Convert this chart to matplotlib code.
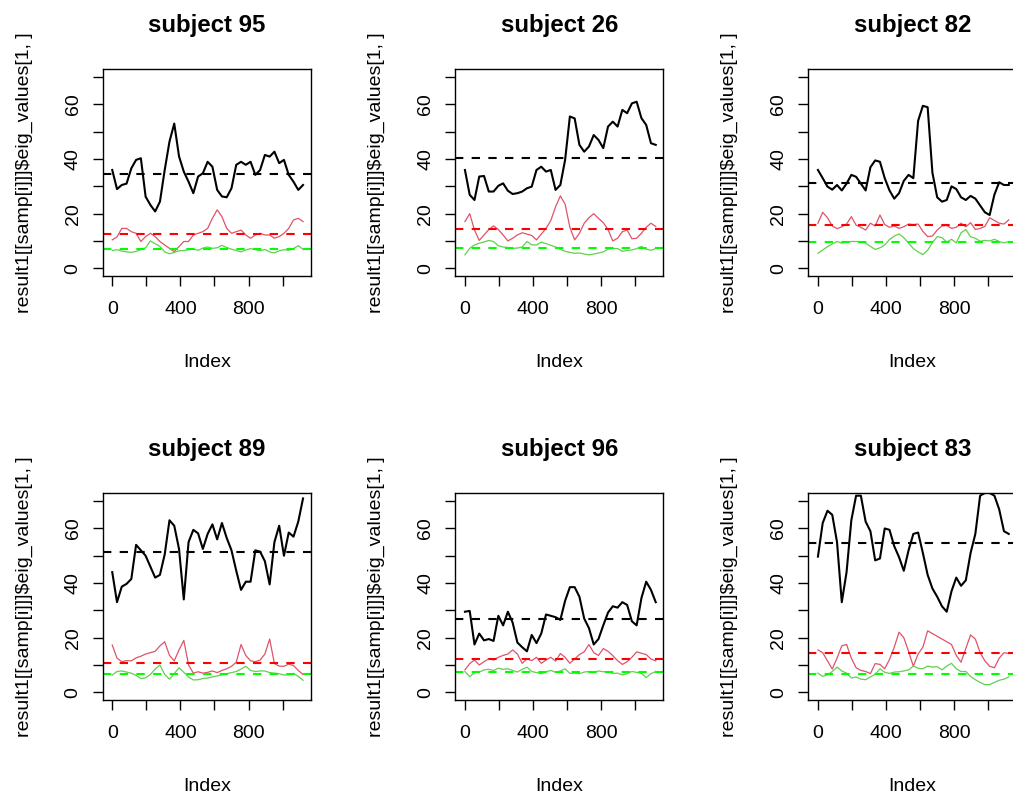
import numpy as np
import matplotlib
matplotlib.use("Agg")
import matplotlib.pyplot as plt

plt.rcParams["font.family"] = ["Liberation Sans", "DejaVu Sans"]

index = np.arange(0, 1121, 28)

subjects = ["subject 95", "subject 26", "subject 82",
            "subject 89", "subject 96", "subject 83"]

s95_black = [36, 29, 30.5, 31, 36.6, 39.7, 40.3, 26.2, 23.2, 20.8, 24.4, 36, 46.4, 53,
             41, 35.4, 31.7, 27.5, 33.6, 34.8, 39, 37.2, 28.7, 26.3, 26, 29.3, 37.9,
             39, 37.9, 39, 34.2, 36, 41.5, 40.9, 42.7, 38.5, 39.7, 34.2, 31.7, 28.7, 30.5]
s95_red = [10.4, 11.5, 14.6, 14.6, 13.4, 12.8, 9.8, 11.6, 12.8, 11.6, 9.8, 8.5, 7.3, 6.1,
           7.9, 9.8, 9.8, 12.2, 12.8, 13.4, 14.6, 18.3, 21.4, 18.9, 14.6, 12.8, 13.4, 14,
           12.2, 11, 12.2, 12.8, 12.2, 12.2, 11, 11.6, 12.8, 14.6, 17.7, 18.3, 17.1]
s95_green = [6.5, 6.8, 6.3, 6.0, 5.8, 6.2, 6.8, 7.5, 10.0, 9.0, 8.0, 6.0, 5.3, 5.8, 6.4,
             6.5, 6.8, 7.0, 6.6, 7.4, 7.8, 7.3, 7.5, 8.4, 7.6, 7.0, 6.5, 6.0, 6.7, 7.2,
             6.8, 6.4, 6.9, 6.0, 5.6, 6.4, 6.8, 6.6, 7.2, 8.3, 6.9]

s26_black = [36, 26.9, 25, 33.6, 33.8, 28.1, 28.1, 30.2, 31.1, 28.4, 27.2, 27.5, 28.1,
             29.3, 29.9, 36, 37.2, 35.4, 36, 28.7, 30.5, 39.7, 55.6, 54.9, 45.2, 42.7,
             44.6, 48.8, 47, 44, 51.9, 53.7, 51.9, 58, 56.8, 60.4, 61, 55, 52.5, 45.8, 45.2]
s26_red = [17.1, 20, 14, 10.2, 12.2, 14.2, 15.5, 14.2, 12.2, 10, 11, 12.2, 13, 12.5, 12,
           10.4, 12.5, 14.6, 17.5, 22.5, 26.5, 23.5, 15, 10.4, 12.8, 16.5, 18.5, 20,
           18.3, 16.7, 14.2, 10, 11, 13.4, 14, 10.8, 11, 12.8, 15, 16.5, 15.3]
s26_green = [4.9, 7.3, 8.5, 9.2, 9.6, 10.2, 9.8, 8.2, 7.8, 7.6, 7.3, 7.4, 7.8, 9.8, 8.6,
             8.5, 9.6, 9.0, 8.4, 7.8, 7.0, 6.2, 5.8, 5.5, 5.6, 5.2, 4.9, 5.2, 5.6, 6.0,
             7.0, 7.3, 7.2, 6.2, 6.5, 6.7, 7.2, 8.0, 7.0, 6.6, 7.2]

s82_black = [36, 33, 29.9, 28.8, 30.5, 28.5, 31, 34.2, 33.5, 31, 28.5, 37, 39.5, 39, 33,
             28.5, 25.5, 27.5, 32, 34.2, 33, 54, 59.5, 59, 35, 26, 24.4, 25, 30, 29, 26,
             25, 26.5, 25.5, 23, 20.5, 19.5, 27, 31.5, 30.5, 30.5]
s82_red = [16.5, 20.5, 18.5, 15.5, 14.5, 15.2, 16.2, 18.9, 15.8, 15, 14, 16.5, 15.5, 19.5,
           16, 15, 15.5, 14.6, 15.2, 16.2, 16, 16.2, 13.5, 11.6, 11.8, 14, 15.5, 15.7,
           14.6, 15, 16.5, 15.2, 16.7, 14.2, 14.6, 15.3, 18.5, 17.5, 16.5, 16.2, 17.7]
s82_green = [5.5, 6.7, 7.9, 8.9, 9.8, 9.2, 9.6, 9.8, 9.8, 9.7, 9.2, 8.0, 6.9, 7.5, 8.5,
             10.5, 11.8, 12.6, 11.2, 9.2, 7.2, 6.0, 5.0, 6.6, 9.4, 11.6, 11.2, 9.6, 10.6,
             9.3, 13.0, 14.2, 11.5, 11.0, 9.9, 10.2, 10.0, 10.6, 9.8, 9.3, 9.8]

s89_black = [44, 33, 38.7, 39.7, 41.5, 54, 52, 50, 46, 42, 43, 50.5, 63, 61, 52.5, 34, 55,
             59.5, 58.2, 52.5, 58, 61.5, 56, 62, 56.5, 52, 44.5, 37.5, 40.5, 40.5, 52,
             51.5, 48, 39.5, 55, 61, 50, 58.5, 57, 62.5, 71]
s89_red = [17.3, 12.5, 11.2, 11.6, 11.5, 12.6, 13.2, 14.0, 14.5, 15.0, 17, 18.5, 13.5,
           11.5, 15.5, 19.0, 10, 7.0, 7.5, 7.0, 7.3, 7.8, 7.2, 8.0, 8.6, 9.5, 11.0, 17.5,
           13.5, 11.5, 11.2, 11.8, 14.0, 19.5, 10.5, 9.6, 9.5, 10.3, 9.8, 8.0, 6.5]
s89_green = [6.3, 7.6, 7.8, 7.4, 7.0, 6.2, 5.0, 5.3, 6.5, 8.5, 10.0, 6.5, 4.8, 6.8, 9.0,
             7.3, 5.6, 4.5, 4.6, 5.0, 5.2, 5.6, 6.0, 6.4, 6.8, 7.2, 7.6, 8.5, 9.5, 8.0,
             7.6, 7.8, 7.8, 7.2, 7.0, 6.8, 6.3, 6.4, 6.9, 5.8, 4.4]

s96_black = [29.5, 29.8, 17.5, 21.5, 19.0, 19.5, 18.8, 28, 24.5, 29.5, 25.5, 18.2, 16.5,
             15.0, 21.0, 18.0, 21.5, 28.5, 28, 27.5, 26.5, 33.5, 38.5, 38.5, 35.0, 27.0,
             23.5, 17.5, 19.5, 24.5, 29.2, 31.5, 31.0, 33.0, 32, 26.0, 24.5, 34.5, 40.5,
             37.5, 33.0]
s96_red = [8.2, 10.5, 11.8, 10.0, 11.2, 12.3, 11.8, 12.8, 13.5, 14.0, 15.5, 14.0, 10.6,
           12.2, 11.6, 12.8, 10.6, 11.8, 12.8, 11.4, 14.2, 12.8, 10.6, 12.2, 13.8, 14.8,
           17.5, 14.5, 13.5, 16.0, 15.0, 13.4, 11.6, 10.2, 11.2, 12.8, 14.8, 14.3, 13.8,
           12.2, 11.5]
s96_green = [7.6, 5.7, 7.2, 7.4, 8.2, 8.4, 8.0, 8.8, 8.4, 8.6, 8.0, 7.4, 8.4, 9.2, 7.6,
             7.2, 6.8, 7.5, 8.0, 7.3, 7.8, 8.6, 6.9, 7.0, 6.8, 7.4, 7.6, 7.3, 7.8, 7.5,
             7.6, 6.9, 7.0, 6.4, 6.8, 7.6, 7.3, 6.9, 5.4, 6.8, 7.6]

s83_black = [49.7, 62, 66.5, 65, 55, 33, 44, 63, 72, 72, 62.5, 59, 48.3, 49, 60, 59.5,
             53.5, 49.5, 44.5, 52, 58, 58.5, 51, 43, 38, 35, 31.5, 29.5, 37, 42, 39, 41,
             51, 58, 72, 73, 73, 72, 67, 59, 58]
s83_red = [15.5, 14.5, 11.5, 8.5, 12.5, 17.0, 17.5, 12.5, 9.0, 8.0, 7.6, 6.8, 10.5, 10.2,
           8.6, 12.0, 16.5, 22.0, 20.0, 15.0, 9.5, 14.0, 16.5, 22.5, 21.5, 20.5, 19.5,
           18.5, 17.5, 13.5, 11.0, 16.0, 21.0, 19.5, 14.5, 11.5, 9.5, 9.0, 12.5, 14.5, 14.2]
s83_green = [7.0, 5.8, 6.4, 7.6, 9.2, 7.8, 7.0, 5.2, 5.6, 4.8, 4.6, 5.6, 6.6, 8.6, 7.3,
             6.9, 7.4, 7.5, 7.8, 8.2, 9.6, 8.8, 8.6, 9.6, 9.2, 9.4, 8.2, 9.6, 10.6, 8.6,
             7.6, 7.6, 5.8, 4.6, 3.6, 2.8, 2.8, 3.6, 4.4, 4.8, 5.6]

# dashed reference lines (means)
black_means = [34.4, 40.5, 31.4, 51.5, 26.7, 54.8]
red_means = [12.6, 14.4, 15.9, 10.9, 12.1, 14.3]
green_means = [7.0, 7.6, 9.6, 6.7, 7.3, 6.7]

blacks = [s95_black, s26_black, s82_black, s89_black, s96_black, s83_black]
reds = [s95_red, s26_red, s82_red, s89_red, s96_red, s83_red]
greens = [s95_green, s26_green, s82_green, s89_green, s96_green, s83_green]

W, H = 1013, 796
fig = plt.figure(figsize=(W / 100, H / 100), dpi=100)

col_left = [102.7, 455.4, 808.4]
row_top = [68.7, 492.7]
ax_w, ax_h = 208.0, 207.2
ylab = "result1[[samp[i]]]$eig_values[1, ]"

for i, name in enumerate(subjects):
    r, c = divmod(i, 3)
    left, top = col_left[c], row_top[r]
    ax = fig.add_axes([left / W, 1 - (top + ax_h) / H, ax_w / W, ax_h / H])

    ax.plot(index, blacks[i], color="black", lw=1.5)
    ax.plot(index, reds[i], color="#DF536B", lw=0.9)
    ax.plot(index, greens[i], color="#61D04F", lw=0.9)
    ax.axhline(black_means[i], color="black", lw=1.5, ls=(0, (4, 4)))
    ax.axhline(red_means[i], color="#FF0000", lw=1.5, ls=(0, (4, 4)))
    ax.axhline(green_means[i], color="#00FF00", lw=1.5, ls=(0, (4, 4)))

    ax.set_xlim(-56, 1165)
    ax.set_ylim(-2.8, 73.1)
    ax.set_xticks(range(0, 1001, 200))
    ax.set_xticklabels(["0", "", "400", "", "800", ""])
    ax.set_yticks(range(0, 71, 10))
    ax.set_yticklabels(["0", "", "20", "", "40", "", "60", ""])
    ax.tick_params(length=7.2, width=1, labelsize=14, direction="out")
    ax.tick_params(axis="x", pad=11)
    ax.tick_params(axis="y", pad=8)
    for lab in ax.get_yticklabels():
        lab.set_rotation(90)
        lab.set_va("center")
    for sp in ax.spines.values():
        sp.set_linewidth(1.0)

    cx = (left + ax_w / 2) / W
    fig.text(cx, 1 - (top - 37) / H, name, ha="center", va="baseline",
             fontsize=17.3, fontweight="bold")
    fig.text(cx, 1 - (top + ax_h + 90.8) / H, "Index", ha="center",
             va="baseline", fontsize=14)
    fig.text((left - 78.7) / W, 1 - (top + ax_h / 2) / H, ylab, rotation=90,
             ha="center", va="center", fontsize=14)

fig.savefig("out.png", dpi=100)
